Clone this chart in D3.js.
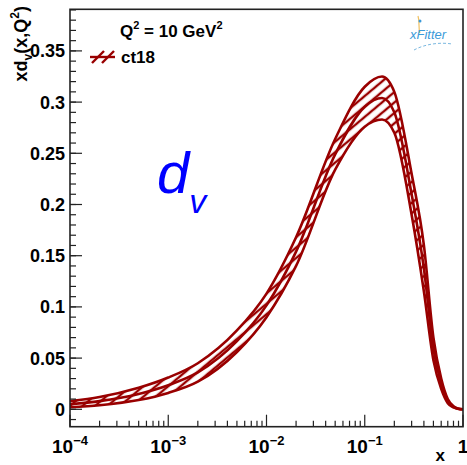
<!DOCTYPE html>
<html>
<head>
<meta charset="utf-8">
<script src="https://cdn.jsdelivr.net/npm/d3@7"></script>
<style>
  body { margin: 0; background: #fff; }
  text { font-family: "Liberation Sans", Arial, Helvetica, sans-serif; }
</style>
</head>
<body>
<svg id="chart"></svg>
<script>
// x grid of the band (log x)
const xs = [1e-4, 2e-4, 5e-4, 1e-3, 2e-3, 5e-3, 0.01, 0.02, 0.05, 0.1, 0.15, 0.2, 0.3, 0.4, 0.5, 0.6, 0.7, 0.8, 0.9, 1];
// upper / lower edge of the ct18 band
const upper = [0.008, 0.012, 0.021, 0.031, 0.045, 0.077, 0.113, 0.168, 0.264, 0.315, 0.325, 0.31, 0.23, 0.16, 0.07, 0.03, 0.01, 0.003, 0.0006, 0];
const lower = [0.002, 0.004, 0.009, 0.016, 0.027, 0.056, 0.090, 0.140, 0.234, 0.276, 0.283, 0.27, 0.19, 0.115, 0.048, 0.02, 0.006, 0.0018, 0.0003, 0];
const central = upper.map((u, i) => (u + lower[i]) / 2);

const yTicks = [0, 0.05, 0.1, 0.15, 0.2, 0.25, 0.3, 0.35];
const yTickLabels = ["0", "0.05", "0.1", "0.15", "0.2", "0.25", "0.3", "0.35"];
const xTicks = [1e-4, 1e-3, 1e-2, 1e-1, 1];
const xTickBase = ["10", "10", "10", "10", "1"];
const xTickExp = ["\u22124", "\u22123", "\u22122", "\u22121", ""];

const width = 467, height = 465;
const red = "#990000";

const svg = d3.select("#chart").attr("width", width).attr("height", height);

const x = d3.scaleLog().domain([1e-4, 1]).range([70, 463]);
const y = d3.scaleLinear().domain([-0.01699, 0.390625]).range([426.7, 9.3]);

// hatch pattern
const defs = svg.append("defs");
defs.append("pattern")
    .attr("id", "hatch")
    .attr("patternUnits", "userSpaceOnUse")
    .attr("width", 8).attr("height", 8)
    .attr("patternTransform", "rotate(-40)")
  .append("line")
    .attr("x1", 0).attr("y1", 4).attr("x2", 8).attr("y2", 4)
    .attr("stroke", red).attr("stroke-width", 2.4);
defs.append("clipPath").attr("id", "clip")
  .append("rect").attr("x", 70).attr("y", 9.3).attr("width", 393).attr("height", 417.4);

const pts = xs.map((v, i) => ({ x: v, u: upper[i], l: lower[i], c: central[i] }));

const g = svg.append("g").attr("clip-path", "url(#clip)");

const area = d3.area()
    .x(d => x(d.x))
    .y0(d => y(d.l))
    .y1(d => y(d.u))
    .curve(d3.curveMonotoneX);
g.append("path").datum(pts).attr("d", area).attr("fill", "url(#hatch)");

for (const key of ["u", "l", "c"]) {
    const line = d3.line().x(d => x(d.x)).y(d => y(d[key])).curve(d3.curveMonotoneX);
    g.append("path").datum(pts).attr("d", line)
        .attr("fill", "none").attr("stroke", red).attr("stroke-width", 2.6);
}

// frame
svg.append("rect").attr("x", 70).attr("y", 9.3).attr("width", 393).attr("height", 417.4)
    .attr("fill", "none").attr("stroke", "#222").attr("stroke-width", 1.6);

// y ticks
const yMinor = d3.range(-1, 40).map(i => i / 100);
svg.selectAll(".ymin").data(yMinor).join("line")
    .attr("x1", 70).attr("x2", 76)
    .attr("y1", d => y(d)).attr("y2", d => y(d))
    .attr("stroke", "#222").attr("stroke-width", 1.2);
svg.selectAll(".ymaj").data(yTicks).join("line")
    .attr("x1", 70).attr("x2", 82)
    .attr("y1", d => y(d)).attr("y2", d => y(d))
    .attr("stroke", "#222").attr("stroke-width", 1.2);
svg.selectAll(".ylab").data(yTicks).join("text")
    .attr("x", 65).attr("y", d => y(d) + 6.5)
    .attr("text-anchor", "end")
    .attr("font-size", 18).attr("font-weight", "bold")
    .text((d, i) => yTickLabels[i]);

// x ticks
const xMinor = [];
for (let e = -4; e < 0; e++) for (let m = 2; m <= 9; m++) xMinor.push(m * Math.pow(10, e));
svg.selectAll(".xmin").data(xMinor).join("line")
    .attr("x1", d => x(d)).attr("x2", d => x(d))
    .attr("y1", 426.7).attr("y2", 420.7)
    .attr("stroke", "#222").attr("stroke-width", 1.2);
svg.selectAll(".xmaj").data(xTicks).join("line")
    .attr("x1", d => x(d)).attr("x2", d => x(d))
    .attr("y1", 426.7).attr("y2", 414.7)
    .attr("stroke", "#222").attr("stroke-width", 1.2);
const xl = svg.selectAll(".xlab").data(xTicks).join("text")
    .attr("x", d => x(d)).attr("y", 452.7)
    .attr("text-anchor", "middle")
    .attr("font-size", 19).attr("font-weight", "bold");
xl.append("tspan").text((d, i) => xTickBase[i]);
xl.append("tspan").attr("dy", -8).attr("font-size", 13).text((d, i) => xTickExp[i]);

// axis titles
svg.append("text").attr("x", 445).attr("y", 461)
    .attr("text-anchor", "end").attr("font-size", 17).attr("font-weight", "bold").text("x");
const yt = svg.append("text")
    .attr("transform", "translate(27,6) rotate(-90)")
    .attr("text-anchor", "end").attr("font-size", 18).attr("font-weight", "bold");
yt.append("tspan").text("xd");
yt.append("tspan").attr("dy", 5).attr("font-size", 12).text("v");
yt.append("tspan").attr("dy", -5).text("(x,Q");
yt.append("tspan").attr("dy", -8).attr("font-size", 12).text("2");
yt.append("tspan").attr("dy", 8).text(")");

// Q2 label
const q = svg.append("text").attr("x", 120).attr("y", 37)
    .attr("font-size", 17).attr("font-weight", "bold");
q.append("tspan").text("Q");
q.append("tspan").attr("dy", -8).attr("font-size", 11).text("2");
q.append("tspan").attr("dy", 8).text(" = 10 GeV");
q.append("tspan").attr("dy", -8).attr("font-size", 11).text("2");

// legend
const lg = svg.append("g");
lg.append("line").attr("x1", 90).attr("x2", 115).attr("y1", 57).attr("y2", 57)
    .attr("stroke", red).attr("stroke-width", 2.4);
lg.append("line").attr("x1", 92).attr("x2", 104).attr("y1", 63).attr("y2", 51)
    .attr("stroke", red).attr("stroke-width", 2.4);
lg.append("line").attr("x1", 102).attr("x2", 114).attr("y1", 63).attr("y2", 51)
    .attr("stroke", red).attr("stroke-width", 2.4);
lg.append("text").attr("x", 121).attr("y", 63)
    .attr("font-size", 17).attr("font-weight", "bold").text("ct18");

// d_v label
const dv = svg.append("text").attr("x", 157).attr("y", 193)
    .attr("fill", "#0000ff").attr("font-style", "italic");
dv.append("tspan").attr("font-size", 58).text("d");
dv.append("tspan").attr("dy", 20).attr("font-size", 34).text("v");

// xFitter logo
const logo = svg.append("g");
logo.append("path").attr("d", "M414,50 C425,44 440,42 452,44").attr("fill", "none")
    .attr("stroke", "#7ab8e0").attr("stroke-width", 1).attr("stroke-dasharray", "3,2");
logo.append("path").attr("d", "M418,16 C420,22 418,28 420,33").attr("fill", "none")
    .attr("stroke", "#f0c060").attr("stroke-width", 1.2);
logo.append("circle").attr("cx", 420).attr("cy", 21).attr("r", 1.5).attr("fill", "#3a9ad9");
logo.append("text").attr("x", 410).attr("y", 39)
    .attr("font-size", 13).attr("font-style", "italic").attr("fill", "#3a9ad9").text("xFitter");
</script>
</body>
</html>
